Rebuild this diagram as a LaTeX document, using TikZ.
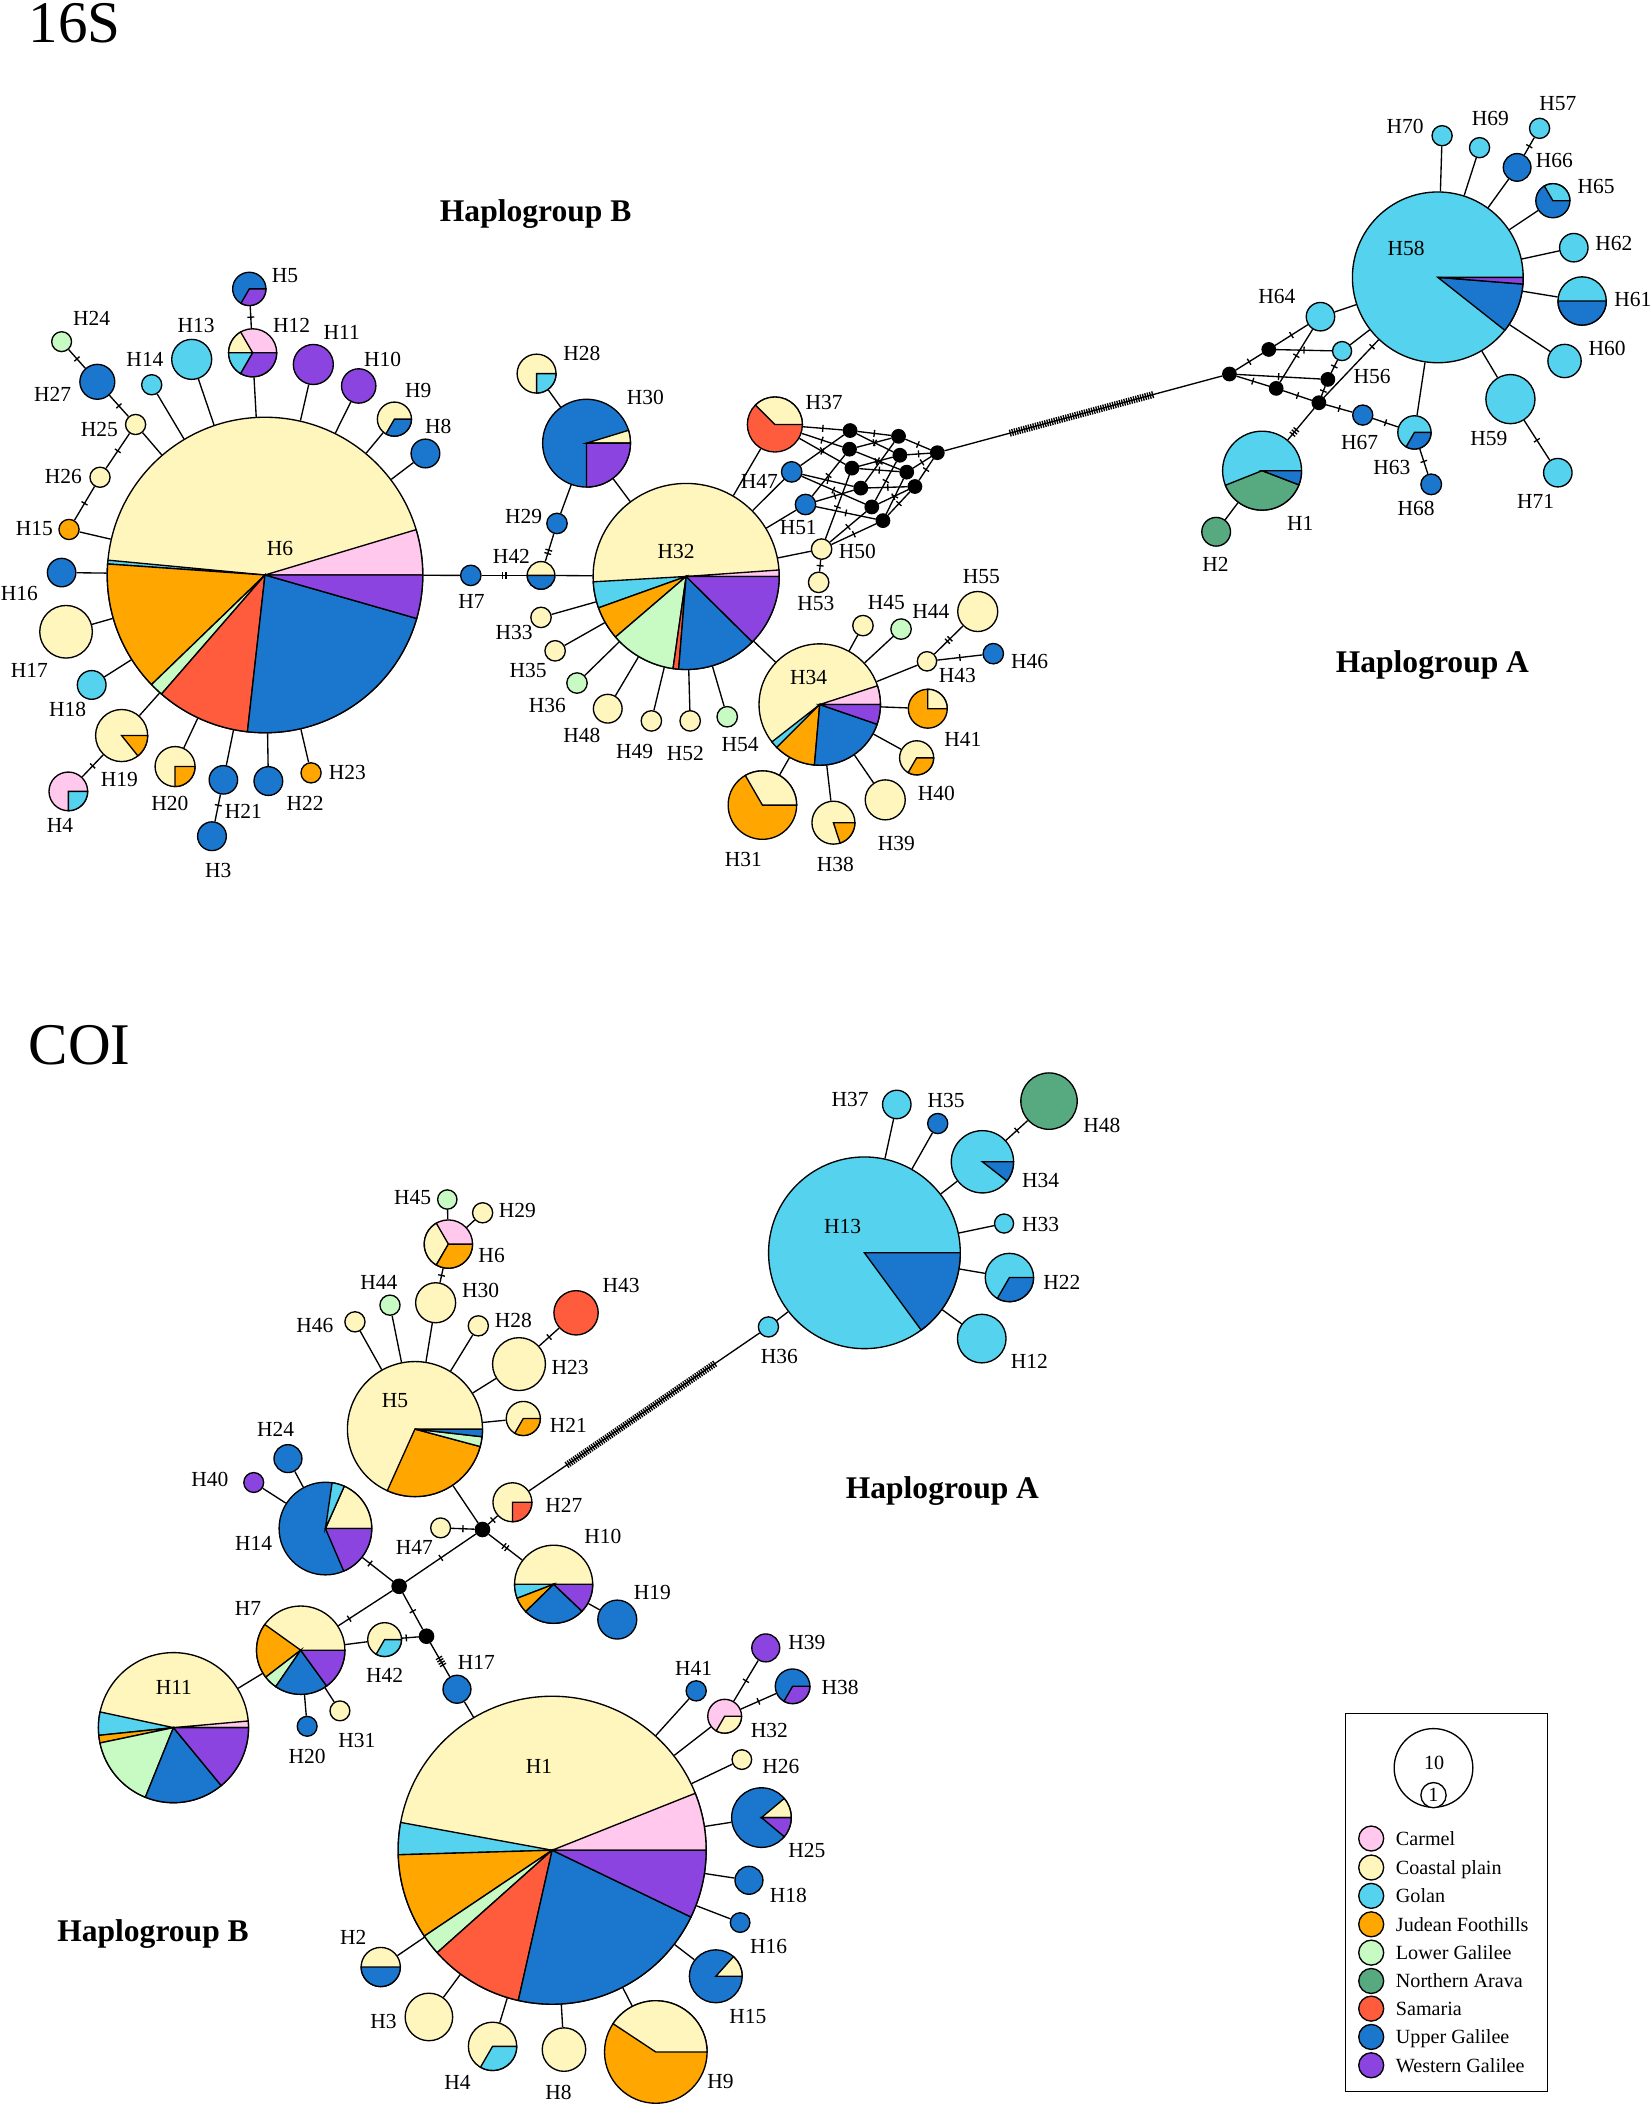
\documentclass[tikz,border=0pt]{standalone}
\usepackage{fontspec}
\setmainfont{Liberation Serif}
\usetikzlibrary{decorations.markings}
\definecolor{CA}{RGB}{255,200,236}
\definecolor{CP}{RGB}{255,246,190}
\definecolor{GO}{RGB}{85,211,238}
\definecolor{JF}{RGB}{255,167,0}
\definecolor{LG}{RGB}{200,251,196}
\definecolor{NA}{RGB}{87,170,128}
\definecolor{SA}{RGB}{255,92,62}
\definecolor{UG}{RGB}{27,119,205}
\definecolor{WG}{RGB}{139,68,224}
\tikzset{
  hap/.style={circle,draw,inner sep=0pt,minimum size=2*#1pt},
  mvdot/.style={circle,fill=black,draw,inner sep=0pt,minimum size=2*#1pt},
  lbl/.style={inner sep=0pt,font=\fontsize{16}{16}\selectfont},
  tickline/.style={line width=1pt},
  mk/.style={postaction={decorate,decoration={markings,mark=at position #1 with {\draw[tickline] (0pt,-2.6pt)--(0pt,2.6pt);}}}},
  mk/.default=0.5,
  mkk/.style={postaction={decorate,decoration={markings,mark=at position #1 with {\draw[tickline] (-1.3pt,-2.6pt)--(-1.3pt,2.6pt) (1.3pt,-2.6pt)--(1.3pt,2.6pt);}}}},
  mkk/.default=0.5,
  mkkk/.style={postaction={decorate,decoration={markings,mark=at position #1 with {\draw[tickline] (-2.2pt,-2.6pt)--(-2.2pt,2.6pt) (0pt,-2.6pt)--(0pt,2.6pt) (2.2pt,-2.6pt)--(2.2pt,2.6pt);}}}},
  mkkk/.default=0.5,
  mkkkk/.style={postaction={decorate,decoration={markings,mark=at position #1 with {\draw[tickline] (-3pt,-2.6pt)--(-3pt,2.6pt) (-1pt,-2.6pt)--(-1pt,2.6pt) (1pt,-2.6pt)--(1pt,2.6pt) (3pt,-2.6pt)--(3pt,2.6pt);}}}},
  mkkkk/.default=0.5,
  hatch/.style 2 args={postaction={decorate,decoration={markings,mark=between positions #1 and #2 step 1.8pt with {\draw[tickline] (0pt,-2.6pt)--(0pt,2.6pt);}}}},
}
\newcommand\hap[5]{\node[hap=#4,fill=#5] (#1) at (#2,#3) {};}
\newcommand\pwedge[5]{\filldraw[fill=#5] (#1.center) -- ++(#3:#2pt) arc[start angle=#3,end angle=#4,radius=#2pt] -- cycle;}
\newcommand\lab[4]{\node[lbl] (t#1) at (#2,-#3) {#4};}
\begin{document}
\begin{tikzpicture}[x=1pt,y=1pt,line width=1pt]
\useasboundingbox (0,0) rectangle (1230,-1568);
\fill[white] (0,0) rectangle (1230,-1568);

% titles
\node[anchor=base west,inner sep=0pt,font=\fontsize{44}{44}\selectfont] (title16S) at (21,-32) {16S};
\node[anchor=base west,inner sep=0pt,font=\fontsize{44}{44}\selectfont] (titleCOI) at (21,-793) {COI};
\node[anchor=base,inner sep=0pt,font=\bfseries\fontsize{23.5}{23.5}\selectfont] (hgBa) at (399,-165) {Haplogroup B};
\node[anchor=base,inner sep=0pt,font=\bfseries\fontsize{23.5}{23.5}\selectfont] (hgAa) at (1067,-501) {Haplogroup A};
\node[anchor=base,inner sep=0pt,font=\bfseries\fontsize{23.5}{23.5}\selectfont] (hgAb) at (702,-1116) {Haplogroup A};
\node[anchor=base,inner sep=0pt,font=\bfseries\fontsize{23.5}{23.5}\selectfont] (hgBb) at (114,-1446) {Haplogroup B};

% ================= 16S =================
\hap{aH6}{197.4}{-428.3}{117.5}{CP}
\hap{aH5}{185.7}{-215.2}{12.4}{UG}
\hap{aH12}{188.2}{-262.8}{17.9}{CA}
\hap{aH11}{233.4}{-271.5}{14.9}{WG}
\hap{aH10}{267.2}{-287.5}{12.8}{WG}
\hap{aH9}{293.8}{-312.2}{12.7}{CP}
\hap{aH8}{316.9}{-337.8}{10.7}{UG}
\hap{aH13}{142.8}{-267.7}{14.9}{GO}
\hap{aH14}{113}{-286.6}{7.5}{GO}
\hap{aH24}{45.9}{-254.5}{7.4}{LG}
\hap{aH27}{72.5}{-284.4}{13}{UG}
\hap{aH25}{101}{-316.2}{7.5}{CP}
\hap{aH26}{74.5}{-355.5}{7.5}{CP}
\hap{aH15}{51.4}{-394.4}{7.5}{JF}
\hap{aH16}{45.9}{-426.5}{10.6}{UG}
\hap{aH17}{49.2}{-470.6}{19.6}{CP}
\hap{aH18}{68.3}{-510.2}{10.7}{GO}
\hap{aH19}{90.6}{-547.9}{19.4}{CP}
\hap{aH4}{50.9}{-589.5}{14.4}{CA}
\hap{aH20}{130.4}{-571}{14.9}{CP}
\hap{aH21}{166.4}{-580.9}{10.6}{UG}
\hap{aH3}{157.9}{-622.9}{10.7}{UG}
\hap{aH22}{199.9}{-581.8}{10.7}{UG}
\hap{aH23}{231.7}{-575.7}{7.5}{JF}
\hap{aH7}{350.7}{-428.6}{7.6}{UG}
\hap{aH42}{403}{-428.6}{10.3}{CP}
\hap{aH29}{414.9}{-389.9}{7.6}{UG}
\hap{aH30}{436.9}{-330.1}{32.7}{UG}
\hap{aH28}{399.7}{-278.3}{14.5}{CP}
\hap{aH32}{511.1}{-429.4}{69.3}{CP}
\hap{aH33}{403}{-459.9}{7.6}{CP}
\hap{aH35}{413.5}{-484.8}{7.6}{CP}
\hap{aH36}{429.8}{-508.8}{7.6}{LG}
\hap{aH48}{452.7}{-527.9}{10.7}{CP}
\hap{aH49}{485.2}{-537}{7.6}{CP}
\hap{aH52}{514.1}{-537}{7.6}{CP}
\hap{aH54}{541.7}{-533.9}{7.6}{LG}
\hap{aH37}{577.2}{-316.2}{20.5}{SA}
\hap{aH47}{589.7}{-351.5}{7.6}{UG}
\hap{aH51}{600}{-375.8}{7.6}{UG}
\hap{aH50}{612}{-409}{7.6}{CP}
\hap{aH53}{609.8}{-433.8}{7.6}{CP}
\hap{aH34}{610.6}{-524.8}{45.2}{CP}
\hap{aH45}{642.8}{-466}{7.6}{CP}
\hap{aH44}{671.2}{-468.6}{7.6}{LG}
\hap{aH55}{728.3}{-455.5}{14.9}{CP}
\hap{aH43}{690.5}{-492.6}{7.2}{CP}
\hap{aH46}{739.9}{-486.9}{7.6}{UG}
\hap{aH41}{691.1}{-527.9}{14.5}{JF}
\hap{aH40}{682.8}{-564.5}{12.7}{CP}
\hap{aH39}{659.4}{-595.8}{14.9}{CP}
\hap{aH38}{620.8}{-612.8}{16}{CP}
\hap{aH31}{567.9}{-599.7}{25.5}{JF}
% median vectors
\node[mvdot=5] (m1) at (633.2,-320.7) {};
\node[mvdot=5] (m2) at (632.8,-334.6) {};
\node[mvdot=5] (m3) at (634.6,-348.7) {};
\node[mvdot=5] (m4) at (641.2,-363.6) {};
\node[mvdot=5] (m5) at (649.4,-377.6) {};
\node[mvdot=5] (m6) at (657.7,-387.8) {};
\node[mvdot=5] (m7) at (669.3,-325) {};
\node[mvdot=5] (m8) at (670.3,-339.1) {};
\node[mvdot=5] (m9) at (675.4,-351.7) {};
\node[mvdot=5] (m10) at (681.5,-362.4) {};
\node[mvdot=5] (m11) at (698.2,-337.2) {};
\node[mvdot=5] (r1) at (915.8,-278.6) {};
\node[mvdot=5] (r2) at (945.1,-260.3) {};
\node[mvdot=5] (r3) at (950.6,-289.3) {};
\node[mvdot=5] (r4) at (989.1,-282.6) {};
\node[mvdot=5] (r5) at (982.4,-300) {};
% right cluster
\hap{aH56}{999.7}{-261.5}{7.1}{GO}
\hap{aH64}{983.6}{-235.9}{10.6}{GO}
\hap{aH58}{1071}{-206.6}{63.6}{GO}
\hap{aH67}{1015.1}{-309.2}{7.5}{UG}
\hap{aH63}{1053.6}{-322.1}{12.4}{GO}
\hap{aH68}{1066.1}{-360.8}{7.7}{UG}
\hap{aH1}{940.1}{-350.6}{29.4}{GO}
\hap{aH2}{905.9}{-396.1}{10.7}{NA}
\hap{aH59}{1125.1}{-297.3}{18.3}{GO}
\hap{aH71}{1160.4}{-352.1}{10.6}{GO}
\hap{aH60}{1165.4}{-268.9}{12.4}{GO}
\hap{aH61}{1178.5}{-224.2}{18}{GO}
\hap{aH62}{1172.3}{-184.5}{10.6}{GO}
\hap{aH65}{1156.7}{-149.5}{12.7}{UG}
\hap{aH66}{1130.1}{-124.7}{10.3}{UG}
\hap{aH57}{1146.8}{-95.6}{7.5}{GO}
\hap{aH69}{1102.1}{-110}{7.5}{GO}
\hap{aH70}{1074.2}{-101.1}{7.5}{GO}

% wedges 16S
\pwedge{aH6}{117.5}{0}{16.7}{CA}
\pwedge{aH6}{117.5}{174.6}{176}{GO}
\pwedge{aH6}{117.5}{176}{224}{JF}
\pwedge{aH6}{117.5}{224}{229}{LG}
\pwedge{aH6}{117.5}{229}{263.6}{SA}
\pwedge{aH6}{117.5}{263.6}{344}{UG}
\pwedge{aH6}{117.5}{344}{360}{WG}
\pwedge{aH5}{12.4}{240}{360}{WG}
\pwedge{aH12}{17.9}{120}{180}{CP}
\pwedge{aH12}{17.9}{180}{240}{GO}
\pwedge{aH12}{17.9}{240}{360}{WG}
\pwedge{aH9}{12.7}{240}{360}{UG}
\pwedge{aH19}{19.4}{308.6}{360}{JF}
\pwedge{aH4}{14.4}{270}{360}{GO}
\pwedge{aH20}{14.9}{270}{360}{JF}
\pwedge{aH42}{10.3}{180}{360}{UG}
\pwedge{aH30}{32.7}{0}{17}{CP}
\pwedge{aH30}{32.7}{270}{360}{WG}
\pwedge{aH28}{14.5}{270}{360}{GO}
\pwedge{aH32}{69.3}{0}{4}{CA}
\pwedge{aH32}{69.3}{183.3}{199.7}{GO}
\pwedge{aH32}{69.3}{199.7}{220.6}{JF}
\pwedge{aH32}{69.3}{220.6}{261.9}{LG}
\pwedge{aH32}{69.3}{261.9}{265.4}{SA}
\pwedge{aH32}{69.3}{265.4}{315.3}{UG}
\pwedge{aH32}{69.3}{315.3}{360}{WG}
\pwedge{aH37}{20.5}{0}{135}{CP}
\pwedge{aH34}{45.2}{0}{18}{CA}
\pwedge{aH34}{45.2}{218}{225}{GO}
\pwedge{aH34}{45.2}{225}{265}{JF}
\pwedge{aH34}{45.2}{265}{341}{UG}
\pwedge{aH34}{45.2}{341}{360}{WG}
\pwedge{aH41}{14.5}{0}{90}{CP}
\pwedge{aH40}{12.7}{240}{360}{JF}
\pwedge{aH38}{16}{288}{360}{JF}
\pwedge{aH31}{25.5}{0}{120}{CP}
\pwedge{aH58}{63.6}{321.7}{355.5}{UG}
\pwedge{aH58}{63.6}{355.5}{360}{WG}
\pwedge{aH63}{12.4}{240}{360}{UG}
\pwedge{aH1}{29.4}{201.7}{339}{NA}
\pwedge{aH1}{29.4}{339}{360}{UG}
\pwedge{aH61}{18}{180}{360}{UG}
\pwedge{aH65}{12.7}{0}{120}{GO}

% edges 16S
\foreach \n in {aH12,aH11,aH10,aH9,aH8,aH13,aH14,aH25,aH15,aH16,aH17,aH18,aH19,aH20,aH21,aH22,aH23,aH7}
  \draw (aH6) -- (\n);
\draw[mk] (aH12) -- (aH5);
\draw[mk] (aH25) -- (aH27);
\draw[mk] (aH27) -- (aH24);
\draw[mk] (aH25) -- (aH26);
\draw[mk] (aH26) -- (aH15);
\draw[mk] (aH19) -- (aH4);
\draw[mk=0.4] (aH21) -- (aH3);
\draw[mkk] (aH7) -- (aH42);
\draw (aH42) -- (aH32);
\draw[mkk=0.35] (aH42) -- (aH29);
\draw (aH29) -- (aH30);
\draw (aH30) -- (aH28);
\draw (aH30) -- (aH32);
\foreach \n in {aH37,aH47,aH51,aH50,aH33,aH35,aH36,aH48,aH49,aH52,aH54,aH34}
  \draw (aH32) -- (\n);
\draw[mk] (aH50) -- (aH53);
\foreach \n in {aH45,aH44,aH43,aH41,aH40,aH39,aH38,aH31}
  \draw (aH34) -- (\n);
\draw[mkk] (aH43) -- (aH55);
\draw[mk] (aH43) -- (aH46);
% mesh
\foreach \a/\b in {aH37/m1,aH37/m2,aH37/m3,aH47/m1,aH47/m4,aH47/m5,aH51/m2,aH51/m4,aH51/m6,aH50/m3,aH50/m5,aH50/m6,
  m1/m7,m1/m8,m2/m7,m2/m9,m3/m8,m3/m9,m4/m7,m4/m10,m5/m8,m5/m10,m6/m9,m6/m10,m7/m11,m8/m11,m9/m11,m10/m11}
  \draw[mk] (\a) -- (\b);
\draw[hatch={0.237}{0.75}] (m11) -- (r1);
\foreach \a/\b in {r1/r2,r1/r3,r1/r4,r2/aH64,r2/aH56,r3/aH64,r3/r5,r4/aH56,r4/r5,r5/aH67,aH67/aH63}
  \draw[mk] (\a) -- (\b);
\draw[mk=0.88] (r5) -- (aH58);
\draw (aH64) -- (aH58);
\draw (aH56) -- (aH58);
\draw[mkkk=0.75] (r5) -- (aH1);
\draw (aH1) -- (aH2);
\draw (aH58) -- (aH63);
\draw[mk] (aH63) -- (aH68);
\foreach \n in {aH70,aH69,aH66,aH65,aH62,aH61,aH60,aH59}
  \draw (aH58) -- (\n);
\draw[mk] (aH66) -- (aH57);
\draw[mk] (aH59) -- (aH71);

% labels 16S
\lab{aH5}{212.3}{205.0}{H5}
\lab{aH24}{68.3}{236.9}{H24}
\lab{aH13}{146}{242.1}{H13}
\lab{aH12}{217.3}{242.1}{H12}
\lab{aH11}{254.5}{247.4}{H11}
\lab{aH14}{108}{267.7}{H14}
\lab{aH10}{285}{267.4}{H10}
\lab{aH27}{39.2}{294}{H27}
\lab{aH9}{311.6}{290.9}{H9}
\lab{aH8}{326.5}{317.8}{H8}
\lab{aH25}{74}{320.2}{H25}
\lab{aH26}{47.2}{354.8}{H26}
\lab{aH15}{25.6}{393.4}{H15}
\lab{aH6}{208.6}{408.9}{H6}
\lab{aH16}{14.4}{442.2}{H16}
\lab{aH17}{21.9}{499.1}{H17}
\lab{aH18}{50.4}{528.7}{H18}
\lab{aH19}{88.9}{580.9}{H19}
\lab{aH20}{126.6}{598.2}{H20}
\lab{aH4}{44.7}{615.2}{H4}
\lab{aH21}{181.3}{604.4}{H21}
\lab{aH22}{227.2}{598.2}{H22}
\lab{aH23}{258.8}{575.7}{H23}
\lab{aH3}{162.6}{648.2}{H3}
\lab{aH28}{433.4}{263.2}{H28}
\lab{aH30}{480.8}{296.1}{H30}
\lab{aH37}{613.9}{299.8}{H37}
\lab{aH47}{565.7}{358.8}{H47}
\lab{aH29}{390.1}{384.7}{H29}
\lab{aH51}{594.6}{393.3}{H51}
\lab{aH42}{381}{414.2}{H42}
\lab{aH50}{638.7}{411.1}{H50}
\lab{aH7}{351.2}{448.2}{H7}
\lab{aH32}{503.6}{411.1}{H32}
\lab{aH53}{607.8}{449.5}{H53}
\lab{aH55}{731}{429.4}{H55}
\lab{aH45}{660.2}{448.7}{H45}
\lab{aH44}{693.3}{455.2}{H44}
\lab{aH33}{382.9}{471.2}{H33}
\lab{aH43}{713.1}{503.1}{H43}
\lab{aH46}{767}{493}{H46}
\lab{aH35}{393.4}{499.1}{H35}
\lab{aH36}{407.7}{525.3}{H36}
\lab{aH48}{433.4}{547.5}{H48}
\lab{aH49}{472.8}{560}{H49}
\lab{aH52}{510.5}{561.3}{H52}
\lab{aH54}{551.3}{554.8}{H54}
\lab{aH34}{602.3}{504.4}{H34}
\lab{aH41}{717.3}{550.6}{H41}
\lab{aH40}{697.4}{591.4}{H40}
\lab{aH39}{667.6}{628.5}{H39}
\lab{aH31}{553.8}{640.3}{H31}
\lab{aH38}{622.2}{644.2}{H38}
\lab{aH70}{1046.7}{93.9}{H70}
\lab{aH69}{1110.2}{88.2}{H69}
\lab{aH57}{1160.4}{77.5}{H57}
\lab{aH66}{1157.9}{119.7}{H66}
\lab{aH65}{1189}{139.1}{H65}
\lab{aH62}{1202.1}{181.3}{H62}
\lab{aH58}{1047.4}{185}{H58}
\lab{aH61}{1216.3}{223}{H61}
\lab{aH64}{951.1}{221}{H64}
\lab{aH60}{1197.2}{259.5}{H60}
\lab{aH56}{1022.1}{280.6}{H56}
\lab{aH59}{1109}{326.5}{H59}
\lab{aH67}{1012.7}{329.8}{H67}
\lab{aH63}{1036.7}{348.4}{H63}
\lab{aH1}{968.5}{389.9}{H1}
\lab{aH71}{1143.8}{373.7}{H71}
\lab{aH68}{1054.9}{378.7}{H68}
\lab{aH2}{905.4}{420.4}{H2}

% ================= COI =================
\hap{bH6}{334}{-926.7}{18}{CA}
\hap{bH45}{333.2}{-893.5}{7.2}{LG}
\hap{bH29}{359.5}{-903.4}{7.5}{CP}
\hap{bH30}{324.5}{-970.4}{14.9}{CP}
\hap{bH44}{290.5}{-972.2}{7.5}{LG}
\hap{bH46}{264.4}{-984.6}{7.5}{CP}
\hap{bH28}{356.3}{-987.6}{7.5}{CP}
\hap{bH43}{429.1}{-977.9}{16.5}{SA}
\hap{bH23}{386.6}{-1016.1}{19.7}{CP}
\hap{bH21}{389.8}{-1056.6}{12.7}{CP}
\hap{bH5}{309.1}{-1064.5}{50.3}{CP}
\hap{bH27}{381.7}{-1119}{14.5}{CP}
\node[mvdot=5.3] (c1) at (359.4,-1139.3) {};
\node[mvdot=5.3] (c2) at (297.3,-1181.6) {};
\node[mvdot=5.3] (c3) at (317.7,-1218.8) {};
\hap{bH47}{328.2}{-1138.1}{7.4}{CP}
\hap{bH10}{412.4}{-1180.1}{29.1}{CP}
\hap{bH19}{459.8}{-1206.4}{14.5}{UG}
\hap{bH14}{242.4}{-1138.6}{34.5}{UG}
\hap{bH24}{214.5}{-1086.5}{10.4}{UG}
\hap{bH40}{189}{-1104.3}{7.4}{WG}
\hap{bH7}{224}{-1229.2}{32.9}{CP}
\hap{bH42}{286.5}{-1221.3}{12.6}{CP}
\hap{bH17}{340.4}{-1258.3}{10.4}{UG}
\hap{bH11}{129.2}{-1286.9}{55.9}{CP}
\hap{bH20}{228.8}{-1285.9}{7.4}{UG}
\hap{bH31}{253.2}{-1274.4}{7.4}{CP}
\hap{bH1}{411.3}{-1378.2}{114.7}{CP}
\hap{bH41}{518.6}{-1259.5}{7.5}{UG}
\hap{bH32}{539.8}{-1278.4}{12.6}{CA}
\hap{bH39}{570.4}{-1227.5}{10.4}{WG}
\hap{bH38}{590.4}{-1256.1}{12.9}{UG}
\hap{bH26}{552.6}{-1310.7}{7.3}{CP}
\hap{bH25}{567.2}{-1353.9}{22.2}{UG}
\hap{bH18}{557.9}{-1400.6}{10.4}{UG}
\hap{bH16}{551.3}{-1432.1}{7.3}{UG}
\hap{bH15}{533.2}{-1472.1}{19.7}{UG}
\hap{bH9}{488.5}{-1528.5}{38.2}{JF}
\hap{bH8}{420.1}{-1526.7}{16.2}{CP}
\hap{bH4}{366.9}{-1524.3}{18}{CP}
\hap{bH3}{319.5}{-1502.4}{17.7}{CP}
\hap{bH2}{283.6}{-1465.2}{14.6}{CP}
\hap{bH13}{643.9}{-933.2}{71.4}{GO}
\hap{bH37}{668}{-822.7}{10.6}{GO}
\hap{bH35}{698.5}{-836.9}{7.5}{UG}
\hap{bH48}{781.4}{-820.2}{21}{NA}
\hap{bH34}{731.8}{-865.4}{23.2}{GO}
\hap{bH33}{747.9}{-911.4}{7.1}{GO}
\hap{bH22}{751.9}{-951.6}{18}{GO}
\hap{bH12}{731.3}{-997.1}{18.1}{GO}
\hap{bH36}{572.4}{-988.4}{7.5}{GO}

% wedges COI
\pwedge{bH6}{18}{120}{240}{CP}
\pwedge{bH6}{18}{240}{360}{JF}
\pwedge{bH21}{12.7}{240}{360}{JF}
\pwedge{bH5}{50.3}{245.8}{345}{JF}
\pwedge{bH5}{50.3}{345}{353.5}{LG}
\pwedge{bH5}{50.3}{353.5}{360}{UG}
\pwedge{bH27}{14.5}{270}{360}{SA}
\pwedge{bH10}{29.1}{180}{201}{GO}
\pwedge{bH10}{29.1}{201}{224.4}{JF}
\pwedge{bH10}{29.1}{224.4}{316.4}{UG}
\pwedge{bH10}{29.1}{316.4}{360}{WG}
\pwedge{bH14}{34.5}{0}{66}{CP}
\pwedge{bH14}{34.5}{66}{81.7}{GO}
\pwedge{bH14}{34.5}{293.3}{360}{WG}
\pwedge{bH7}{32.9}{144.4}{217.6}{JF}
\pwedge{bH7}{32.9}{217.6}{235.6}{LG}
\pwedge{bH7}{32.9}{235.6}{305.9}{UG}
\pwedge{bH7}{32.9}{305.9}{360}{WG}
\pwedge{bH42}{12.6}{240}{360}{GO}
\pwedge{bH11}{55.9}{0}{5.1}{CA}
\pwedge{bH11}{55.9}{167.9}{185.9}{GO}
\pwedge{bH11}{55.9}{185.9}{191.8}{JF}
\pwedge{bH11}{55.9}{191.8}{248}{LG}
\pwedge{bH11}{55.9}{248}{309.5}{UG}
\pwedge{bH11}{55.9}{309.5}{360}{WG}
\pwedge{bH1}{114.7}{0}{21.7}{CA}
\pwedge{bH1}{114.7}{169.6}{181.7}{GO}
\pwedge{bH1}{114.7}{181.7}{213.9}{JF}
\pwedge{bH1}{114.7}{213.9}{221.7}{LG}
\pwedge{bH1}{114.7}{221.7}{257.3}{SA}
\pwedge{bH1}{114.7}{257.3}{334.3}{UG}
\pwedge{bH1}{114.7}{334.3}{360}{WG}
\pwedge{bH32}{12.6}{240}{360}{CP}
\pwedge{bH38}{12.9}{240}{360}{WG}
\pwedge{bH25}{22.2}{0}{40}{CP}
\pwedge{bH25}{22.2}{320}{360}{WG}
\pwedge{bH15}{19.7}{0}{48}{CP}
\pwedge{bH9}{38.2}{0}{146.5}{CP}
\pwedge{bH4}{18}{240}{360}{GO}
\pwedge{bH2}{14.6}{180}{360}{UG}
\pwedge{bH13}{71.4}{306.3}{360}{UG}
\pwedge{bH34}{23.2}{322}{360}{UG}
\pwedge{bH22}{18}{240}{360}{UG}

% edges COI
\draw (bH6) -- (bH45);
\draw (bH6) -- (bH29);
\draw[mk] (bH6) -- (bH30);
\draw (bH30) -- (bH5);
\foreach \n in {bH44,bH46,bH28,bH23,bH21,c1}
  \draw (bH5) -- (\n);
\draw[mk] (bH23) -- (bH43);
\draw[mk] (c1) -- (bH27);
\draw[hatch={0.165}{0.81}] (bH27) -- (bH36);
\draw (bH36) -- (bH13);
\foreach \n in {bH37,bH35,bH34,bH33,bH22,bH12}
  \draw (bH13) -- (\n);
\draw[mk] (bH34) -- (bH48);
\draw[mk] (c1) -- (bH47);
\draw[mkk=0.5] (c1) -- (bH10);
\draw (bH10) -- (bH19);
\draw[mk] (c1) -- (c2);
\draw[mk=0.75] (c2) -- (bH14);
\draw (bH14) -- (bH24);
\draw (bH14) -- (bH40);
\draw[mk=0.8] (c2) -- (bH7);
\draw[mk] (c2) -- (c3);
\draw[mk=0.75] (c3) -- (bH42);
\draw (bH42) -- (bH7);
\draw[mkkkk=0.55] (c3) -- (bH17);
\draw (bH17) -- (bH1);
\foreach \n in {bH11,bH20,bH31}
  \draw (bH7) -- (\n);
\foreach \n in {bH41,bH32,bH26,bH25,bH18,bH16,bH15,bH9,bH8,bH4,bH3,bH2}
  \draw (bH1) -- (\n);
\draw[mk] (bH32) -- (bH39);
\draw[mk] (bH32) -- (bH38);

% labels COI
\lab{bH45}{307.4}{892}{H45}
\lab{bH29}{385.4}{901.9}{H29}
\lab{bH6}{366.2}{934.9}{H6}
\lab{bH44}{282.3}{955.5}{H44}
\lab{bH30}{358}{961.5}{H30}
\lab{bH43}{462.6}{957.3}{H43}
\lab{bH46}{234.6}{987.1}{H46}
\lab{bH28}{382.4}{983.3}{H28}
\lab{bH23}{424.6}{1018.6}{H23}
\lab{bH21}{423.4}{1061.6}{H21}
\lab{bH27}{420.1}{1121.2}{H27}
\lab{bH5}{294.2}{1042.9}{H5}
\lab{bH37}{633.2}{819}{H37}
\lab{bH35}{704.7}{819.5}{H35}
\lab{bH48}{820.7}{838.1}{H48}
\lab{bH34}{775.2}{879.6}{H34}
\lab{bH33}{775.2}{911.9}{H33}
\lab{bH22}{790.9}{955.6}{H22}
\lab{bH12}{766.8}{1014.4}{H12}
\lab{bH36}{580.6}{1010.2}{H36}
\lab{bH13}{627.7}{913.9}{H13}
\lab{bH24}{205.3}{1064.9}{H24}
\lab{bH40}{156.3}{1102.1}{H40}
\lab{bH14}{189}{1149.8}{H14}
\lab{bH47}{308.7}{1153}{H47}
\lab{bH10}{449}{1144.8}{H10}
\lab{bH7}{184.7}{1198.2}{H7}
\lab{bH42}{286.5}{1247.9}{H42}
\lab{bH17}{354.8}{1238}{H17}
\lab{bH20}{228.8}{1308.2}{H20}
\lab{bH31}{265.9}{1296.3}{H31}
\lab{bH11}{129.5}{1257.1}{H11}
\lab{bH19}{486}{1186}{H19}
\lab{bH41}{516.7}{1242.9}{H41}
\lab{bH39}{601}{1223.8}{H39}
\lab{bH38}{625.8}{1257.1}{H38}
\lab{bH32}{573.1}{1289.3}{H32}
\lab{bH26}{581.6}{1315.7}{H26}
\lab{bH25}{601}{1378.2}{H25}
\lab{bH18}{587.2}{1411.8}{H18}
\lab{bH16}{572.6}{1449.8}{H16}
\lab{bH15}{557.1}{1502.4}{H15}
\lab{bH9}{536.6}{1550.8}{H9}
\lab{bH8}{416.1}{1558.3}{H8}
\lab{bH4}{340.8}{1550.8}{H4}
\lab{bH3}{285.7}{1506.1}{H3}
\lab{bH2}{263.1}{1442.8}{H2}
\lab{bH1}{401.5}{1315.4}{H1}

% ================= legend =================
\node[draw,inner sep=0pt,minimum width=150.8pt,minimum height=281.4pt] (legendbox) at (1077.4,-1417.1) {};
\node[hap=29.3,fill=white] (lgbig) at (1067.8,-1316.9) {};
\node[hap=9.4,fill=white] (lgsmall) at (1067.8,-1337.2) {};
\node[inner sep=0pt,font=\fontsize{15}{15}\selectfont] (lg10) at (1068.3,-1312.9) {10};
\node[inner sep=0pt,font=\fontsize{15}{15}\selectfont] (lg1) at (1067.8,-1337.2) {1};
\foreach \c/\t/\y [count=\i] in {CA/Carmel/1369.5, CP/Coastal plain/1391.1, GO/Golan/1412.2, JF/Judean Foothills/1433.4, LG/Lower Galilee/1454.5, NA/Northern Arava/1475.6, SA/Samaria/1496.2, UG/Upper Galilee/1517.3, WG/Western Galilee/1538.4}
{
  \node[hap=9.3,fill=\c] (lgc\i) at (1021.4,-\y) {};
  \node[anchor=base west,inner sep=0pt,font=\fontsize{15}{15}\selectfont] (lgt\i) at (1039.3,-\y-5.2) {\t};
}
\end{tikzpicture}
\end{document}
